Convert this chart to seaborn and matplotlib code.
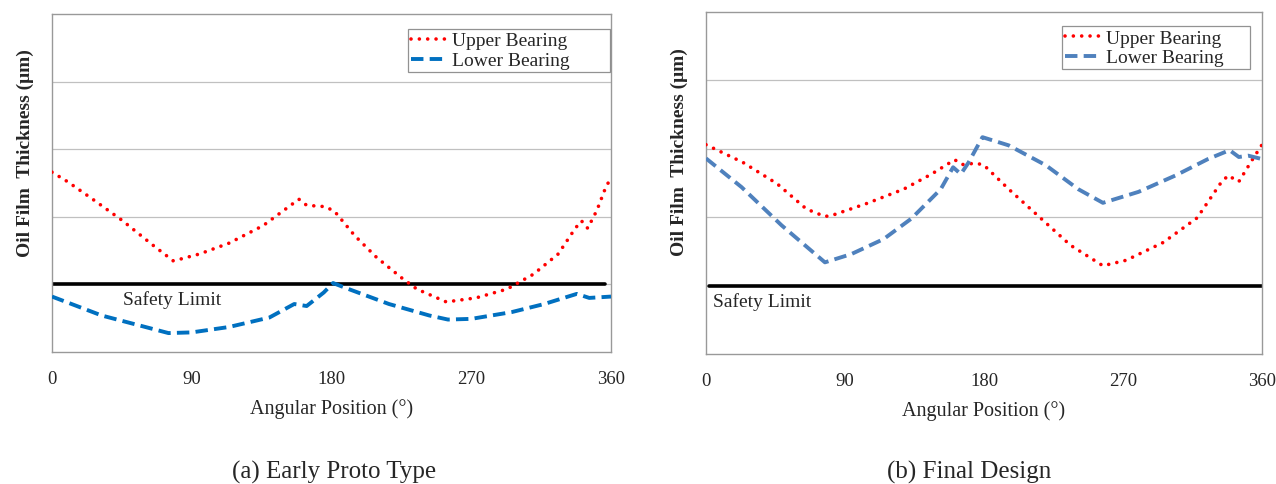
import matplotlib
matplotlib.use("Agg")
import matplotlib.pyplot as plt
import matplotlib.transforms as mtransforms
import pandas as pd
import seaborn as sns

# angular position (deg) and oil film thickness (arbitrary units, grid = 1)
proto_upper_x = [0, 10, 25, 45, 65, 78, 82, 95, 114, 136, 159, 164, 176, 182, 195, 209, 225, 235, 254, 260, 273, 293, 310, 326, 337, 341, 345, 351, 356, 359]
proto_upper_y = [2.66, 2.52, 2.28, 1.95, 1.58, 1.35, 1.37, 1.45, 1.61, 1.87, 2.26, 2.17, 2.15, 2.08, 1.72, 1.40, 1.10, 0.93, 0.74, 0.76, 0.80, 0.93, 1.15, 1.45, 1.83, 1.94, 1.83, 2.10, 2.40, 2.54]
proto_lower_x = [0, 32, 75, 90, 114, 140, 156, 164, 175, 181, 190, 217, 243, 255, 270, 296, 317, 338, 346, 360]
proto_lower_y = [0.82, 0.54, 0.28, 0.29, 0.37, 0.51, 0.71, 0.68, 0.88, 1.02, 0.94, 0.71, 0.54, 0.48, 0.49, 0.59, 0.71, 0.86, 0.80, 0.82]

final_upper_x = [0, 24, 46, 65, 77, 82, 104, 128, 146, 161, 166, 175, 180, 196, 216, 236, 257, 272, 296, 318, 333, 338, 345, 354, 360]
final_upper_y = [3.06, 2.80, 2.49, 2.12, 2.01, 2.03, 2.20, 2.41, 2.63, 2.84, 2.77, 2.79, 2.76, 2.41, 2.00, 1.59, 1.29, 1.37, 1.63, 1.99, 2.49, 2.61, 2.52, 2.85, 3.06]
final_lower_x = [0, 23, 49, 77, 94, 115, 133, 152, 160, 165, 170, 179, 196, 220, 241, 257, 280, 304, 325, 339, 345, 351, 360]
final_lower_y = [2.86, 2.44, 1.88, 1.34, 1.46, 1.68, 1.98, 2.41, 2.73, 2.63, 2.80, 3.17, 3.05, 2.76, 2.41, 2.21, 2.37, 2.61, 2.85, 2.98, 2.88, 2.90, 2.85]

safety_limit = 1.0
xticks = [0, 90, 180, 270, 360]
captions = ["(a) Early Proto Type", "(b) Final Design"]

sns.set_theme(style="white")
plt.rcParams["font.family"] = ["Liberation Serif", "DejaVu Serif"]

fig = plt.figure(figsize=(12.76, 4.85), dpi=100)
ax1 = fig.add_axes([52 / 1276, 1 - 353 / 485, 559 / 1276, 338 / 485])
ax2 = fig.add_axes([706 / 1276, 1 - 355 / 485, 556 / 1276, 342 / 485])

# axis, series, blue colour, safety line span, label x, legend box (x0, x1, top), caption x
panels = [
    (ax1, proto_upper_x, proto_upper_y, proto_lower_x, proto_lower_y, "#0070C0", (0, 356), 46, (0.637, 0.998, 0.956), 0.504),
    (ax2, final_upper_x, final_upper_y, final_lower_x, final_lower_y, "#4F81BD", (2, 360), 4.5, (0.64, 0.978, 0.959), 0.473),
]

for i, (ax, ux, uy, lx, ly, blue, lim_span, txt_x, lg, cap_x) in enumerate(panels):
    ax.set_xlim(0, 360)
    ax.set_ylim(0, 5)
    for g in [1, 2, 3, 4]:
        ax.axhline(g, color="#c0c0c0", lw=0.9, zorder=0)
    ax.plot(lim_span, [safety_limit, safety_limit], color="black", lw=2.6, zorder=2)
    ax.text(txt_x, 0.78, "Safety Limit", fontsize=14, va="center", ha="left")

    up = pd.DataFrame({"x": ux, "y": uy})
    lo = pd.DataFrame({"x": lx, "y": ly})
    sns.lineplot(data=up, x="x", y="y", ax=ax, color="red", lw=2.6,
                 linestyle=(0, (0.01, 2.3)), dash_capstyle="round",
                 label="Upper Bearing", zorder=3)
    sns.lineplot(data=lo, x="x", y="y", ax=ax, color=blue, lw=2.8,
                 linestyle=(0, (3.2, 1.6)), label="Lower Bearing", zorder=3)

    ax.set_xticks(xticks)
    ax.set_xticklabels([str(t) for t in xticks], fontsize=13.5)
    ax.set_yticks([])
    ax.tick_params(axis="x", length=4, color="#888888", direction="in", pad=13)
    for s in ax.spines.values():
        s.set_color("#999999")
        s.set_linewidth(1.0)
    ax.set_xlabel("Angular Position (°)", fontsize=14.5, labelpad=8)
    ax.set_ylabel("Oil Film  Thickness (μm)", fontsize=14, fontweight="bold")
    ax.yaxis.set_label_coords(-0.033, 0.593)

    leg = ax.legend(loc="upper left", bbox_to_anchor=(lg[0], lg[2] - 0.2, lg[1] - lg[0], 0.2),
                    mode="expand", fontsize=14, frameon=True, fancybox=False,
                    handlelength=1.8, handletextpad=0.3, borderpad=0.15,
                    labelspacing=0.12, borderaxespad=0.0)
    leg.get_frame().set_edgecolor("#777777")
    leg.get_frame().set_linewidth(0.9)

    # caption under each panel
    trans = mtransforms.blended_transform_factory(ax.transAxes, fig.transFigure)
    ax.text(cap_x, 1 - 472 / 485, captions[i], transform=trans, fontsize=18,
            ha="center", va="center")

fig.savefig("out.png", dpi=100)
